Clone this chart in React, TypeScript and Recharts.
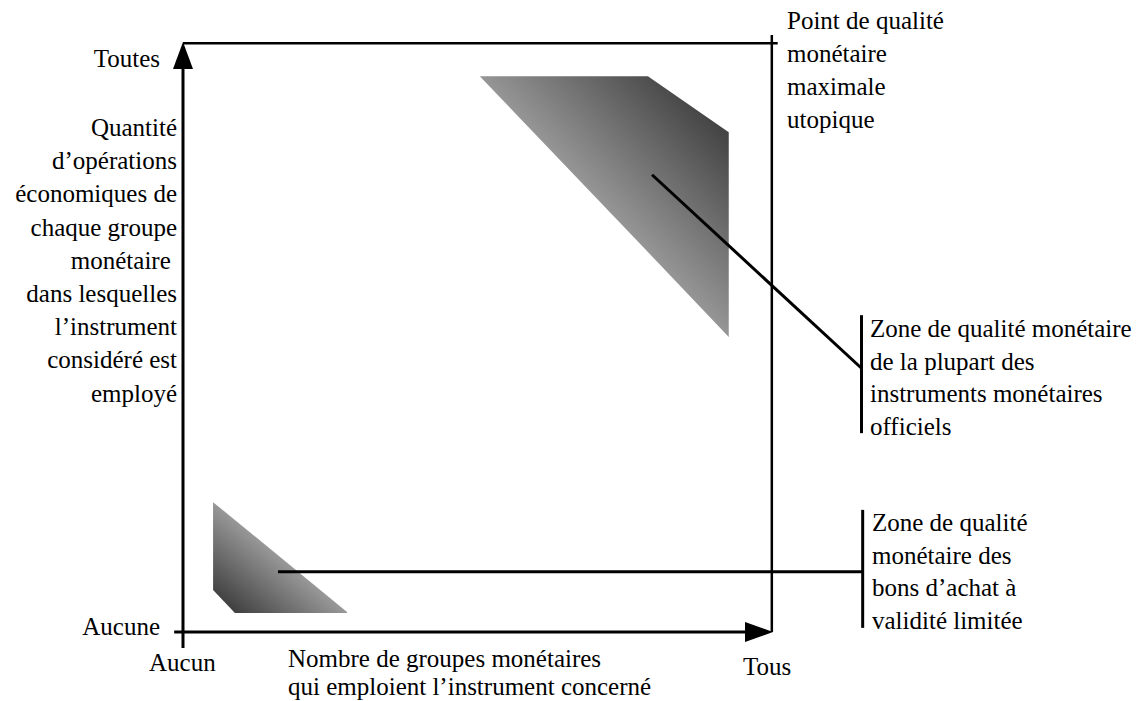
import React from "react";
import { ComposedChart, Area, XAxis, YAxis, ReferenceLine, ReferenceDot } from "recharts";

// Zone polygons in chart units (0..100 on both axes)
const officialZone = [
  { x: 50.3, r: [94.2, 94.2] },
  { x: 78.8, r: [64.4, 94.2] },
  { x: 92.5, r: [50.0, 84.7] },
];
const voucherZone = [
  { x: 5.1, r: [7.1, 22.0] },
  { x: 8.8, r: [3.2, 19.0] },
  { x: 27.8, r: [3.2, 3.4] },
];

// Axis / frame segments
const yAxisSeg = [{ x: 0, y: -2.7 }, { x: 0, y: 97 }];
const xAxisSeg = [{ x: -1.5, y: 0 }, { x: 96, y: 0 }];
const topSeg = [{ x: 0, y: 99.8 }, { x: 100.8, y: 99.8 }];
const rightSeg = [{ x: 99.8, y: 101.2 }, { x: 99.8, y: 0 }];

// Leader lines and bars
const officialLeader = [{ x: 79.5, y: 77.5 }, { x: 115.0, y: 44.7 }];
const officialBar = [{ x: 115.0, y: 53.7 }, { x: 115.0, y: 33.7 }];
const voucherLeader = [{ x: 16.1, y: 10.2 }, { x: 115.2, y: 10.2 }];
const voucherBar = [{ x: 115.2, y: 20.7 }, { x: 115.2, y: 0.7 }];

// Text
const yTopTick = ["Toutes"];
const yBottomTick = ["Aucune"];
const xLeftTick = ["Aucun"];
const xRightTick = ["Tous"];
const yTitle = ["Quantité", "d’opérations", "économiques de", "chaque groupe", "monétaire\u00a0", "dans lesquelles", "l’instrument", "considéré est", "employé"];
const xTitle = ["Nombre de groupes monétaires", "qui emploient l’instrument concerné"];
const pointLabel = ["Point de qualité", "monétaire", "maximale", "utopique"];
const officialLabel = ["Zone de qualité monétaire", "de la plupart des", "instruments monétaires", "officiels"];
const voucherLabel = ["Zone de qualité", "monétaire des", "bons d’achat à", "validité limitée"];

const tableMap = new Map<number, any>();
officialZone.forEach((d) => tableMap.set(d.x, { x: d.x, official: d.r }));
voucherZone.forEach((d) => tableMap.set(d.x, { ...(tableMap.get(d.x) || { x: d.x }), voucher: d.r }));
const table = Array.from(tableMap.values()).sort((a, b) => a.x - b.x);

const UpArrow = (p: any) => (
  <polygon points={`${p.cx},${p.cy} ${p.cx - 10},${p.cy + 27} ${p.cx + 10},${p.cy + 27}`} fill="#000" />
);
const RightArrow = (p: any) => (
  <polygon points={`${p.cx},${p.cy} ${p.cx - 28},${p.cy - 10} ${p.cx - 28},${p.cy + 10}`} fill="#000" />
);

const SERIF = "Liberation Serif, Tinos, Nimbus Roman, FreeSerif, Times New Roman, Times, serif";

const textItems = (lines: string[], x: number, y0: number, dy: number, anchor: string, k: string) =>
  lines.map((t, i) => (
    <text key={k + i} x={x} y={y0 + i * dy} textAnchor={anchor} fontFamily={SERIF} fontSize={25} fill="#000">
      {t}
    </text>
  ));

export default function App() {
  const seg = (s: any, w = 3) => (
    <ReferenceLine segment={s} stroke="#000" strokeWidth={w} ifOverflow="visible" />
  );
  return (
    <div style={{ position: "absolute", left: 0, top: 0, width: 1141, height: 701, background: "#fff", fontFamily: SERIF }}>
      <ComposedChart
        width={1141}
        height={701}
        data={table}
        margin={{ left: 183, right: 368, top: 42, bottom: 69 }}
        style={{ fontFamily: SERIF }}
      >
        <defs>
          <linearGradient id="gOfficial" x1="0.45" y1="0.55" x2="1" y2="0">
            <stop offset="0" stopColor="#a0a0a0" />
            <stop offset="1" stopColor="#2c2c2c" />
          </linearGradient>
          <linearGradient id="gVoucher" x1="0" y1="1" x2="0.55" y2="0.45">
            <stop offset="0" stopColor="#2e2e2e" />
            <stop offset="1" stopColor="#a2a2a2" />
          </linearGradient>
        </defs>
        <XAxis type="number" dataKey="x" domain={[0, 100]} hide />
        <YAxis type="number" domain={[0, 100]} hide />
        <Area dataKey="official" type="linear" stroke="none" fill="url(#gOfficial)" fillOpacity={1} isAnimationActive={false} connectNulls={false} />
        <Area dataKey="voucher" type="linear" stroke="none" fill="url(#gVoucher)" fillOpacity={1} isAnimationActive={false} connectNulls={false} />
        {seg(yAxisSeg)}
        {seg(xAxisSeg)}
        {seg(topSeg, 2.5)}
        {seg(rightSeg, 2.5)}
        {seg(officialLeader)}
        {seg(officialBar)}
        {seg(voucherLeader)}
        {seg(voucherBar)}
        <ReferenceDot x={0} y={100} r={1} ifOverflow="visible" shape={UpArrow} />
        <ReferenceDot x={100} y={0} r={1} ifOverflow="visible" shape={RightArrow} />
        {textItems(yTopTick, 160, 67, 0, "end", "a")}
        {textItems(yBottomTick, 160, 635, 0, "end", "b")}
        {textItems(xLeftTick, 149, 671, 0, "start", "c")}
        {textItems(xRightTick, 743, 675, 0, "start", "d")}
        {textItems(yTitle, 177, 136, 33.2, "end", "e")}
        {textItems(xTitle, 288, 667, 28, "start", "f")}
        {textItems(pointLabel, 787, 29, 33, "start", "g")}
        {textItems(officialLabel, 870, 337, 32.5, "start", "h")}
        {textItems(voucherLabel, 872, 531, 32.5, "start", "i")}
      </ComposedChart>
    </div>
  );
}
